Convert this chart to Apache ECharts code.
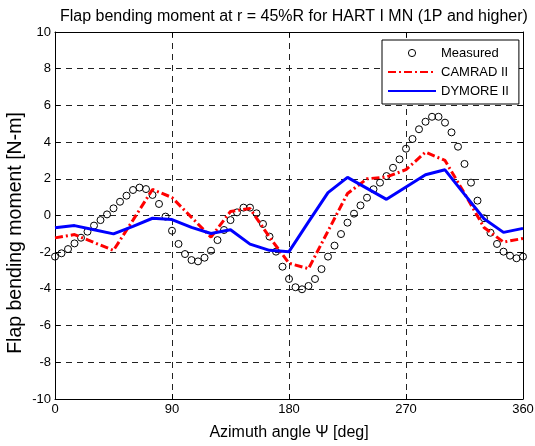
<!DOCTYPE html>
<html>
<head>
<meta charset="utf-8">
<script src="https://cdn.jsdelivr.net/npm/echarts@6/dist/echarts.min.js"></script>
<style>
  html, body { margin: 0; padding: 0; background: #fff; }
  #chart { width: 535px; height: 446px; }
</style>
</head>
<body>
<div id="chart"></div>
<script>
// measured data, every 5 deg
const measuredAngles = [0, 5, 10, 15, 20, 25, 30, 35, 40, 45, 50, 55, 60, 65, 70, 75, 80, 85, 90,
  95, 100, 105, 110, 115, 120, 125, 130, 135, 140, 145, 150, 155, 160, 165, 170, 175, 180,
  185, 190, 195, 200, 205, 210, 215, 220, 225, 230, 235, 240, 245, 250, 255, 260, 265, 270,
  275, 280, 285, 290, 295, 300, 305, 310, 315, 320, 325, 330, 335, 340, 345, 350, 355, 360];
const measured = [-2.24, -2.06, -1.83, -1.52, -1.21, -0.88, -0.55, -0.25, 0.06, 0.39, 0.75, 1.08, 1.39, 1.52, 1.44, 1.12, 0.63, -0.06, -0.83,
  -1.55, -2.1, -2.43, -2.5, -2.3, -1.92, -1.34, -0.79, -0.25, 0.17, 0.43, 0.43, 0.12, -0.46, -1.15, -1.97, -2.79, -3.46,
  -3.91, -4.02, -3.84, -3.46, -2.92, -2.24, -1.64, -1.01, -0.39, 0.1, 0.55, 0.97, 1.43, 1.79, 2.15, 2.6, 3.06, 3.64,
  4.17, 4.7, 5.11, 5.38, 5.38, 5.06, 4.53, 3.75, 2.81, 1.79, 0.81, -0.15, -0.94, -1.55, -1.97, -2.19, -2.33, -2.24];

// predictions, every 15 deg
const modelAngles = [0, 15, 30, 45, 60, 75, 90, 105, 120, 135, 150, 165, 180,
  195, 210, 225, 240, 255, 270, 285, 300, 315, 330, 345, 360];
const camrad = [-1.22, -1.04, -1.47, -1.9, -0.25, 1.42, 0.98, -0.1, -1.18, 0.22, 0.38, -1.18, -2.6,
  -2.9, -0.85, 1.2, 2.0, 2.1, 2.5, 3.45, 3.0, 1.2, -0.65, -1.45, -1.25];
const dymore = [-0.67, -0.55, -0.78, -1.0, -0.59, -0.15, -0.22, -0.65, -0.98, -0.78, -1.56, -1.9, -1.97,
  -0.35, 1.25, 2.08, 1.48, 0.88, 1.55, 2.22, 2.49, 1.15, -0.18, -0.92, -0.7];

const xTicks = { min: 0, max: 360, interval: 90 };
const yTicks = { min: -10, max: 10, interval: 2 };

const pairs = (xs, ys) => xs.map((x, i) => [x, ys[i]]);

const font = '"Liberation Sans", Arial, Helvetica, sans-serif';
const gridLine = { show: true, lineStyle: { color: '#222', width: 1, type: [6, 5] } };
const axisLine = { show: true, onZero: false, lineStyle: { color: '#000', width: 1 } };
const tick = { show: true, inside: true, length: 5, lineStyle: { color: '#000' } };

const chart = echarts.init(document.getElementById('chart'));
chart.setOption({
  animation: false,
  backgroundColor: '#fff',
  textStyle: { fontFamily: font },
  title: {
    text: 'Flap bending moment at r = 45%R for HART I MN (1P and higher)',
    left: 55, top: 4,
    textStyle: { fontSize: 16, fontWeight: 'normal', color: '#000', fontFamily: font }
  },
  grid: { left: 55, right: 12, top: 32, bottom: 47, containLabel: false, outerBoundsMode: 'none' },
  legend: {
    orient: 'vertical',
    left: 382, top: 40,
    padding: [6, 10, 6, 5],
    itemWidth: 48, itemHeight: 9, itemGap: 5,
    backgroundColor: '#fff',
    borderColor: '#000', borderWidth: 1, borderRadius: 0,
    textStyle: { fontSize: 13, lineHeight: 14, color: '#000', fontFamily: font },
    data: [
      { name: 'Measured', itemStyle: { color: 'rgba(0,0,0,0)', borderColor: '#000', borderWidth: 1 } },
      { name: 'CAMRAD II', itemStyle: { opacity: 0 } },
      { name: 'DYMORE II', itemStyle: { opacity: 0 } }
    ]
  },
  xAxis: [
    {
      type: 'value', ...xTicks,
      name: 'Azimuth angle Ψ [deg]', nameLocation: 'middle', nameGap: 26, nameMoveOverlap: false,
      nameTextStyle: { fontSize: 16, color: '#000', fontFamily: font },
      axisLine, axisTick: tick, splitLine: gridLine,
      axisLabel: { fontSize: 13, color: '#000', margin: 4, fontFamily: font }
    },
    {
      type: 'value', position: 'top', ...xTicks,
      axisLine, axisTick: tick, splitLine: { show: false }, axisLabel: { show: false }
    }
  ],
  yAxis: [
    {
      type: 'value', ...yTicks,
      name: 'Flap bending moment [N-m]', nameLocation: 'middle', nameGap: 29, nameMoveOverlap: false,
      nameTextStyle: { fontSize: 19.5, color: '#000', fontFamily: font, padding: [0, 35, 0, 0] },
      axisLine, axisTick: tick, splitLine: gridLine,
      axisLabel: { fontSize: 13, color: '#000', margin: 4, fontFamily: font }
    },
    {
      type: 'value', position: 'right', ...yTicks,
      axisLine, axisTick: tick, splitLine: { show: false }, axisLabel: { show: false }
    }
  ],
  series: [
    {
      name: 'Measured',
      type: 'line',
      data: pairs(measuredAngles, measured),
      symbol: 'circle', symbolSize: 7, showSymbol: true,
      lineStyle: { opacity: 0, width: 0 },
      itemStyle: { color: 'rgba(0,0,0,0)', borderColor: '#000', borderWidth: 1 },
      z: 2
    },
    {
      name: 'CAMRAD II',
      type: 'line',
      data: pairs(modelAngles, camrad),
      symbol: 'none',
      lineStyle: { color: '#ff0000', width: 3, type: [8, 3, 2, 3] },
      itemStyle: { color: '#ff0000' },
      z: 3
    },
    {
      name: 'DYMORE II',
      type: 'line',
      data: pairs(modelAngles, dymore),
      symbol: 'none',
      lineStyle: { color: '#0000ff', width: 3 },
      itemStyle: { color: '#0000ff' },
      z: 4
    }
  ]
});
</script>
</body>
</html>
